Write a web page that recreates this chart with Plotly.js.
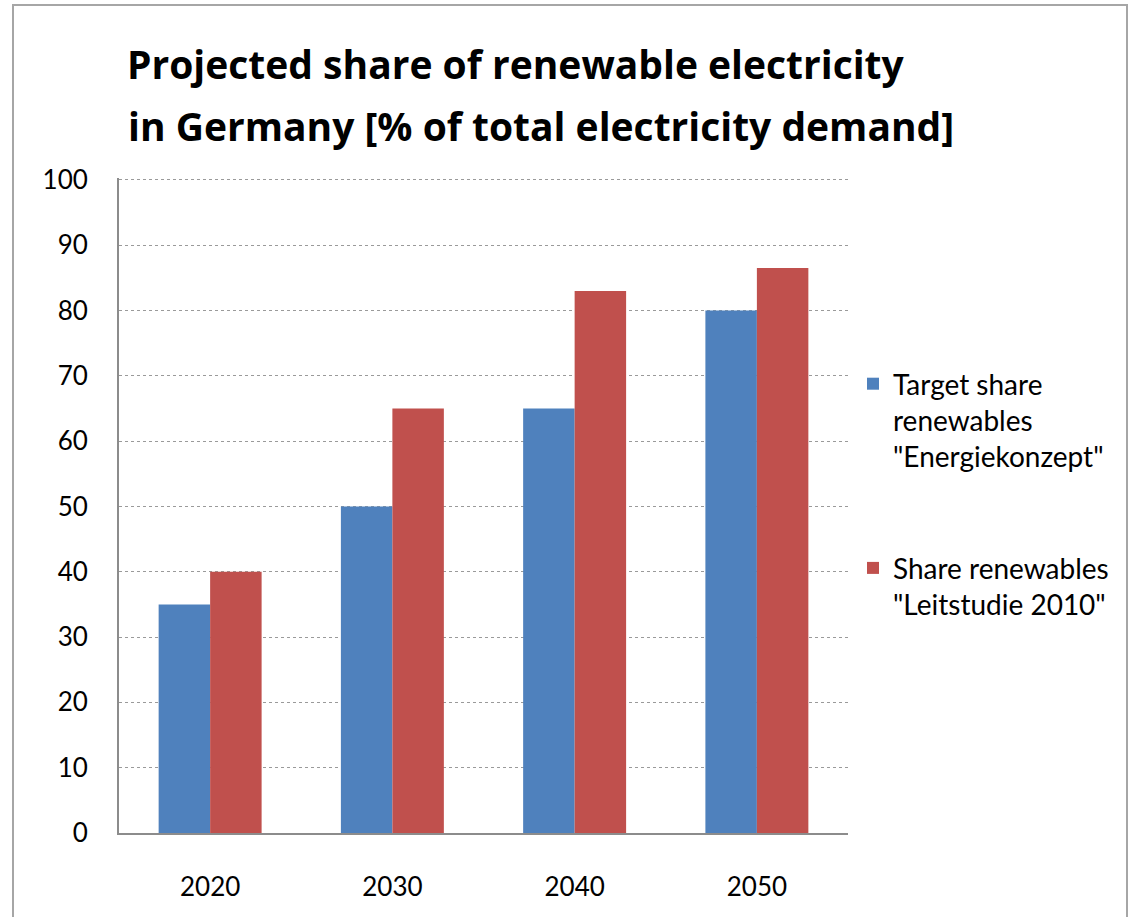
<!DOCTYPE html>
<html>
<head>
<meta charset="utf-8">
<script src="https://cdn.plot.ly/plotly-3.0.1.min.js"></script>
<style>
  html, body { margin: 0; padding: 0; background: #fff; }
  #chart { width: 1132px; height: 917px; position: absolute; left: 0; top: 0; }
  #frame { position: absolute; left: 12px; top: 4px; width: 1116px; height: 940px; border: 2px solid #a6a6a6; pointer-events: none; box-sizing: border-box; }
</style>
</head>
<body>
<div id="chart"></div>
<div id="frame"></div>
<script>
const categories = ['2020', '2030', '2040', '2050'];
const targetShare = [35, 50, 65, 80];
const leitstudieShare = [40, 65, 83, 86.5];
const seriesNames = ['Target share<br>renewables<br>"Energiekonzept"', 'Share renewables<br>"Leitstudie 2010"'];
const yTicks = [0, 10, 20, 30, 40, 50, 60, 70, 80, 90, 100];
const titleLine1 = 'Projected share of renewable electricity';
const titleLine2 = 'in Germany [% of total electricity demand]';

const FONT = 'Lato, "Open Sans", sans-serif';
const TFONT = '"Open Sans", Lato, sans-serif';

const traces = [
  { type: 'bar', x: categories, y: targetShare, name: seriesNames[0],
    marker: { color: '#4F81BD' }, legendgroup: 'a' },
  { type: 'bar', x: categories, y: leitstudieShare, name: seriesNames[1],
    marker: { color: '#C0504D' }, legendgroup: 'b' }
];

const PLOT_T = 178, PLOT_H = 917 - 178 - 84;

const layout = {
  width: 1132, height: 917,
  paper_bgcolor: '#ffffff', plot_bgcolor: '#ffffff',
  margin: { l: 119, r: 284, t: PLOT_T, b: 84 },
  font: { family: FONT, color: '#000000' },
  barmode: 'group', bargap: 0.435, bargroupgap: 0,
  title: { text: '<b>' + titleLine1 + '</b>', font: { family: TFONT, size: 39, color: '#000' },
           xref: 'container', x: 127 / 1132, xanchor: 'left',
           yref: 'container', y: 1 - 65 / 917, yanchor: 'middle' },
  annotations: [
    { text: '<b>' + titleLine2 + '</b>', xref: 'paper', yref: 'paper',
      x: (126 - 119) / 729, y: 1 + (PLOT_T - 126) / PLOT_H, xanchor: 'left', yanchor: 'middle',
      showarrow: false, font: { family: TFONT, size: 39, color: '#000' } }
  ],
  xaxis: {
    type: 'category', showgrid: false, ticks: '', ticklabelstandoff: 30,
    showline: true, linecolor: '#8c8c8c', linewidth: 2,
    tickfont: { family: FONT, size: 26, color: '#000' }
  },
  yaxis: {
    range: [0, 100.3], tickvals: yTicks, ticks: '', ticklabelstandoff: 24,
    showline: true, linecolor: '#8c8c8c', linewidth: 2,
    showgrid: true, gridcolor: '#9a9a9a', gridwidth: 1, griddash: 'dot',
    zeroline: false,
    tickfont: { family: FONT, size: 26, color: '#000' }
  },
  showlegend: true,
  legend: {
    x: (853 - 119) / 729, xanchor: 'left', y: 1 - (359 - PLOT_T) / PLOT_H, yanchor: 'top',
    font: { family: FONT, size: 28, color: '#000' },
    traceorder: 'grouped', tracegroupgap: 72, itemwidth: 30, valign: 'top',
    bgcolor: 'rgba(0,0,0,0)'
  }
};

Plotly.newPlot('chart', traces, layout, { displayModeBar: false, staticPlot: true });
</script>
</body>
</html>
